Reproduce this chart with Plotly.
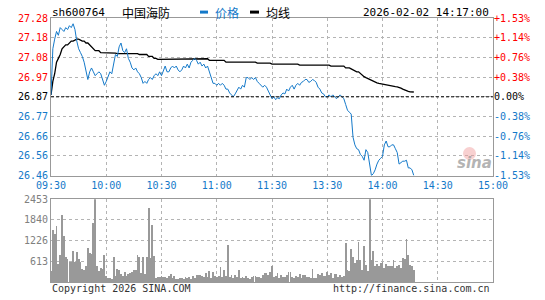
import plotly.graph_objects as go

# ---------------- data ----------------
prev_close = 26.87
prices = [
    26.88, 27.12, 27.17, 27.21, 27.19, 27.23, 27.22, 27.21, 27.23, 27.22,
    27.24, 27.23, 27.25, 27.22, 27.16, 27.12, 27.10, 27.08, 27.05, 27.01,
    26.96, 27.00, 27.02, 27.00, 26.98, 26.99, 27.00, 26.99, 26.96, 26.93,
    26.95, 26.98, 27.00, 26.99, 27.04, 27.09, 27.08, 27.13, 27.15, 27.11,
    27.10, 27.12, 27.07, 27.05, 27.02, 27.01, 27.02, 27.00, 26.99, 26.97,
    26.94, 26.95, 26.94, 26.96, 26.97, 26.96, 26.98, 26.99, 26.98, 27.00,
    26.98, 27.01, 27.03, 27.00, 27.00, 27.02, 27.03, 27.02, 27.03, 27.01,
    27.00, 27.01, 27.03, 27.02, 27.04, 27.02, 27.05, 27.06, 27.07, 27.06,
    27.04, 27.05, 27.03, 27.04, 27.02, 27.03, 27.00, 26.96, 26.94, 26.94,
    26.93, 26.94, 26.93, 26.94, 26.93, 26.91, 26.91, 26.89, 26.88, 26.87,
    26.885, 26.90, 26.92, 26.91, 26.93, 26.92, 26.97, 26.97, 26.96, 26.97,
    26.96, 26.97, 26.95, 26.94, 26.93, 26.92, 26.93, 26.92, 26.90, 26.88,
    26.86, 26.87, 26.855, 26.865, 26.86, 26.88, 26.89, 26.885, 26.91, 26.90,
    26.92, 26.93, 26.91, 26.93, 26.94, 26.93, 26.945, 26.95, 26.96, 26.96,
    26.945, 26.95, 26.96, 26.955, 26.945, 26.92, 26.91, 26.89, 26.885, 26.87,
    26.87, 26.88, 26.87, 26.88, 26.87, 26.86, 26.87, 26.88, 26.87, 26.86,
    26.83, 26.80, 26.79, 26.78, 26.66, 26.62, 26.60, 26.595, 26.57, 26.56,
    26.54, 26.595, 26.58, 26.53, 26.46, 26.47, 26.49, 26.52, 26.54, 26.55,
    26.56, 26.62, 26.64, 26.61, 26.61, 26.62, 26.62, 26.60, 26.58, 26.52,
    26.53, 26.535, 26.535, 26.54, 26.50, 26.50, 26.49, 26.46,
]
avg_prices = [
    26.88, 26.95, 26.99, 27.05, 27.07, 27.09, 27.12, 27.13, 27.14, 27.14,
    27.15, 27.16, 27.16, 27.165, 27.17, 27.17, 27.165, 27.16, 27.16, 27.15,
    27.15, 27.14, 27.13, 27.12, 27.11, 27.11, 27.11, 27.10, 27.10, 27.097,
    27.097, 27.097, 27.097, 27.097, 27.097, 27.097, 27.095, 27.095, 27.095, 27.095,
    27.095, 27.095, 27.095, 27.095, 27.095, 27.095, 27.095, 27.095, 27.09, 27.09,
    27.09, 27.09, 27.09, 27.08, 27.08, 27.08, 27.07, 27.07, 27.065, 27.065,
    27.065, 27.065, 27.065, 27.065, 27.065, 27.065, 27.065, 27.068, 27.068, 27.068,
    27.068, 27.068, 27.068, 27.068, 27.068, 27.068, 27.068, 27.068, 27.068, 27.068,
    27.068, 27.068, 27.068, 27.068, 27.068, 27.068, 27.06, 27.06, 27.06, 27.06,
    27.06, 27.06, 27.06, 27.06, 27.06, 27.05, 27.05, 27.05, 27.05, 27.05,
    27.05, 27.05, 27.05, 27.05, 27.05, 27.05, 27.05, 27.05, 27.05, 27.05,
    27.05, 27.05, 27.045, 27.045, 27.045, 27.045, 27.045, 27.045, 27.045, 27.045,
    27.04, 27.04, 27.04, 27.04, 27.04, 27.04, 27.04, 27.04, 27.04, 27.04,
    27.04, 27.04, 27.04, 27.04, 27.04, 27.035, 27.035, 27.035, 27.035, 27.035,
    27.035, 27.035, 27.035, 27.035, 27.035, 27.035, 27.035, 27.035, 27.035, 27.035,
    27.035, 27.035, 27.03, 27.03, 27.03, 27.03, 27.03, 27.03, 27.03, 27.03,
    27.02, 27.02, 27.02, 27.015, 27.01, 27.005, 27.00, 27.00, 26.99, 26.98,
    26.975, 26.97, 26.965, 26.96, 26.955, 26.95, 26.945, 26.943, 26.94, 26.938,
    26.935, 26.932, 26.93, 26.93, 26.928, 26.926, 26.925, 26.923, 26.922, 26.92,
    26.915, 26.91, 26.905, 26.90, 26.898, 26.896, 26.895, 26.895,
]
volumes = [
    310, 1530, 1410, 1640, 535, 800, 1965, 1350, 730, 680,
    600, 600, 915, 575, 885, 680, 595, 390, 360, 460,
    1010, 865, 815, 1740, 2453, 455, 310, 410, 380, 780,
    185, 117, 117, 90, 720, 165, 370, 360, 215, 185,
    280, 185, 215, 265, 280, 340, 360, 800, 730, 265,
    720, 215, 720, 2190, 700, 1670, 750, 117, 146, 127,
    165, 146, 136, 117, 185, 243, 117, 185, 68, 90,
    100, 110, 80, 130, 120, 150, 90, 170, 120, 200,
    210, 190, 160, 130, 250, 150, 330, 120, 300, 160,
    130, 160, 440, 130, 340, 170, 1090, 130, 200, 100,
    200, 140, 360, 110, 130, 100, 160, 110, 90, 150,
    170, 160, 150, 140, 120, 190, 260, 270, 210, 300,
    460, 130, 170, 260, 110, 200, 140, 150, 210, 280,
    300, 140, 120, 180, 140, 220, 120, 200, 190, 140,
    130, 120, 390, 120, 110, 220, 200, 250, 170, 180,
    300, 200, 250, 120, 230, 220, 150, 200, 130, 170,
    1140, 360, 330, 960, 730, 570, 650, 1190, 630, 340,
    1060, 510, 310, 2453, 630, 900, 460, 530, 460, 560,
    600, 410, 530, 460, 480, 460, 630, 410, 460, 510,
    410, 700, 670, 1280, 800, 510, 480, 360,
]
time_ticks = [0, 30, 60, 90, 120, 150, 180, 210, 240]
time_labels = ["09:30", "10:00", "10:30", "11:00", "11:30", "13:30", "14:00", "14:30", "15:00"]
price_ticks = [26.46, 26.5625, 26.665, 26.7675, 26.87, 26.9725, 27.075, 27.1775, 27.28]
price_labels = ["26.46", "26.56", "26.66", "26.77", "26.87", "26.97", "27.08", "27.18", "27.28"]
pct_labels = ["-1.53%", "-1.14%", "-0.76%", "-0.38%", "0.00%", "+0.38%", "+0.76%", "+1.14%", "+1.53%"]
vol_ticks = [613, 1226, 1840, 2453]
vol_labels = ["613", "1226", "1840", "2453"]

# ---------------- styles ----------------
BLUE = "#1479c9"
RED = "#ff0000"
GRID = "#b4b4b4"
FRAME = "#999999"
MONO = "DejaVu Sans Mono"

def colored(labels, vals, ref):
    out = []
    for lab, v in zip(labels, vals):
        c = RED if v > ref + 1e-9 else ("#000000" if abs(v - ref) < 1e-9 else BLUE)
        out.append('<span style="color:%s">%s</span>' % (c, lab))
    return out

minutes = list(range(len(prices)))

fig = go.Figure()
fig.add_trace(go.Scatter(x=minutes, y=avg_prices, mode="lines",
                         line=dict(color="#000000", width=1.3), xaxis="x", yaxis="y",
                         hoverinfo="skip"))
fig.add_trace(go.Scatter(x=minutes, y=prices, mode="lines",
                         line=dict(color=BLUE, width=1.0), xaxis="x", yaxis="y",
                         hoverinfo="skip"))
fig.add_trace(go.Scatter(x=minutes, y=prices, mode="lines",
                         line=dict(color="rgba(0,0,0,0)", width=0), xaxis="x", yaxis="y3",
                         hoverinfo="skip"))
fig.add_trace(go.Bar(x=minutes, y=volumes, width=0.45,
                     marker=dict(color="#999999", line=dict(width=0)),
                     xaxis="x2", yaxis="y2", hoverinfo="skip"))

H = 300
top, bottom = 18, 286
ph = bottom - top
main_dom = [(bottom - 178) / ph, 1.0]
vol_dom = [0.0, (bottom - 202) / ph]

def px_x(px):
    return (px - 51) / 442.0

def px_y(py):
    return (bottom - py) / ph

common_x = dict(range=[0, 240], tickvals=time_ticks, showgrid=True, gridcolor=GRID,
                griddash="dot", gridwidth=1, zeroline=False, showline=True, mirror=True,
                linecolor=FRAME, linewidth=1, ticks="", fixedrange=True)

fig.update_layout(
    width=545, height=H,
    margin=dict(l=51, r=52, t=top, b=H - bottom),
    paper_bgcolor="white", plot_bgcolor="white",
    showlegend=False, bargap=0,
    font=dict(family=MONO, size=10, color="#000"),
    xaxis=dict(common_x, anchor="y", ticktext=time_labels, showticklabels=True,
               tickfont=dict(family=MONO, size=10, color=BLUE)),
    xaxis2=dict(common_x, anchor="y2", matches="x", showticklabels=False),
    yaxis=dict(domain=main_dom, range=[price_ticks[0], price_ticks[-1]], tickvals=price_ticks,
               ticktext=colored(price_labels, price_ticks, prev_close), showgrid=True,
               gridcolor=GRID, griddash="dot", zeroline=False, showline=True, mirror=True,
               linecolor=FRAME, ticks="", tickfont=dict(family=MONO, size=10), fixedrange=True),
    yaxis3=dict(overlaying="y", side="right", anchor="x", range=[price_ticks[0], price_ticks[-1]],
                tickvals=price_ticks, ticktext=colored(pct_labels, price_ticks, prev_close),
                showgrid=False, zeroline=False, showline=False, ticks="",
                tickfont=dict(family=MONO, size=10), fixedrange=True),
    yaxis2=dict(domain=vol_dom, range=[0, vol_ticks[-1]], tickvals=vol_ticks, ticktext=vol_labels,
                showgrid=True, gridcolor=GRID, griddash="dot", zeroline=False, showline=True,
                mirror=True, linecolor=FRAME, ticks="",
                tickfont=dict(family=MONO, size=10, color="#808080"), fixedrange=True),
)

# previous close dashed line
fig.add_shape(type="line", xref="x", yref="y", x0=0, x1=240, y0=prev_close, y1=prev_close,
              line=dict(color="#000000", width=1, dash="3px,2px"), layer="above")

# header texts
yh = px_y(12)
fig.add_annotation(text="sh600764", xref="paper", yref="paper", x=px_x(50), y=yh,
                   xanchor="left", yanchor="middle", showarrow=False,
                   font=dict(family=MONO, size=11, color="#000"))
fig.add_annotation(text="中国海防", xref="paper", yref="paper", x=px_x(120), y=yh,
                   xanchor="left", yanchor="middle", showarrow=False,
                   font=dict(family="Noto Sans CJK SC", size=12, color="#000"))
fig.add_shape(type="line", xref="paper", yref="paper", x0=px_x(200), x1=px_x(208), y0=yh, y1=yh,
              line=dict(color=BLUE, width=3))
fig.add_annotation(text="价格", xref="paper", yref="paper", x=px_x(213), y=yh,
                   xanchor="left", yanchor="middle", showarrow=False,
                   font=dict(family="Noto Sans CJK SC", size=12, color=BLUE))
fig.add_shape(type="line", xref="paper", yref="paper", x0=px_x(250), x1=px_x(259), y0=yh, y1=yh,
              line=dict(color="#000000", width=3))
fig.add_annotation(text="均线", xref="paper", yref="paper", x=px_x(264), y=yh,
                   xanchor="left", yanchor="middle", showarrow=False,
                   font=dict(family="Noto Sans CJK SC", size=12, color="#000"))
fig.add_annotation(text="2026-02-02 14:17:00", xref="paper", yref="paper", x=px_x(491), y=yh,
                   xanchor="right", yanchor="middle", showarrow=False,
                   font=dict(family=MONO, size=11, color="#000"))

# footer texts
yf = px_y(293)
fig.add_annotation(text="Copyright 2026 SINA.COM", xref="paper", yref="paper", x=px_x(50), y=yf,
                   xanchor="left", yanchor="middle", showarrow=False,
                   font=dict(family=MONO, size=10, color="#333"))
fig.add_annotation(text="http://finance.sina.com.cn", xref="paper", yref="paper", x=px_x(492), y=yf,
                   xanchor="right", yanchor="middle", showarrow=False,
                   font=dict(family=MONO, size=10, color="#333"))

# sina watermark
fig.add_shape(type="circle", xref="paper", yref="paper", x0=px_x(463), x1=px_x(476),
              y0=px_y(162), y1=px_y(149), fillcolor="rgba(240,150,150,0.45)",
              line=dict(width=0))
fig.add_annotation(text="<b><i>sina</i></b>", xref="paper", yref="paper", x=px_x(474), y=px_y(165),
                   xanchor="center", yanchor="middle", showarrow=False,
                   font=dict(family="DejaVu Sans", size=15, color="rgba(160,160,160,0.8)"))

fig.write_html("out.html")
